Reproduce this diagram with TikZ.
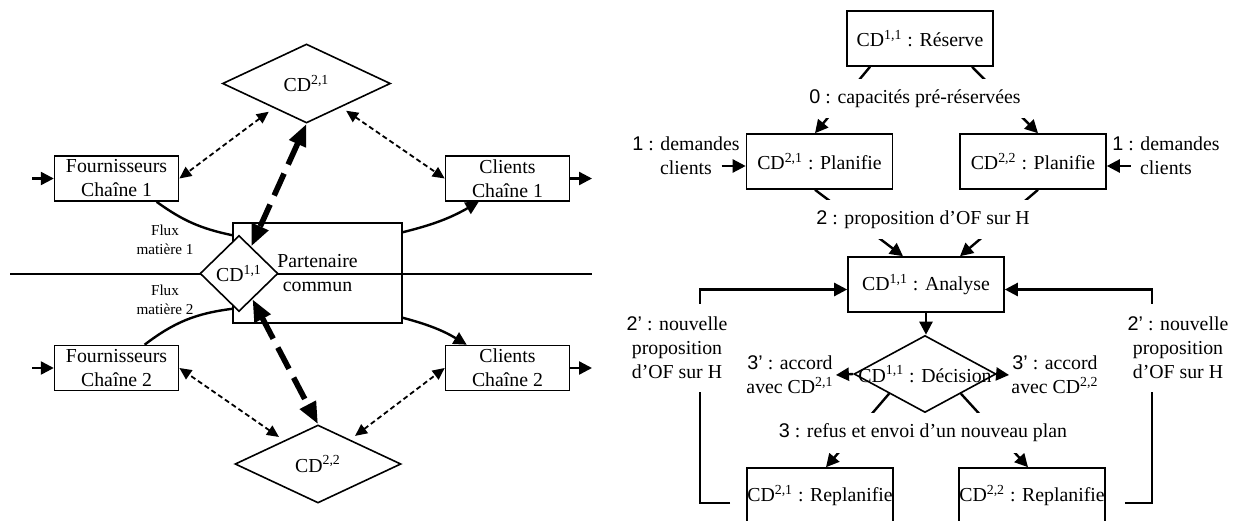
\documentclass[tikz,border=0pt]{standalone}
\usepackage{fontspec}
\setmainfont{Liberation Serif}
\setsansfont{Liberation Sans}
\usetikzlibrary{shapes.geometric, arrows.meta, positioning, calc}
\newcommand{\CDsup}[1]{CD\textsuperscript{#1}}
\tikzset{
    % Node styles
    chainbox/.style={
        rectangle,
        draw,
        line width=0.8pt,
        fill=white,
        minimum width=62pt,
        minimum height=22.5pt,
        inner sep=0pt,
        align=center
    },
    stepbox/.style={
        rectangle,
        draw,
        line width=0.8pt,
        fill=white,
        minimum width=73pt,
        minimum height=27.5pt,
        inner sep=0pt,
        align=center
    },
    decision/.style={
        diamond,
        draw,
        line width=0.8pt,
        fill=white,
        inner sep=0pt
    },
    msglabel/.style={
        fill=white,
        inner xsep=3pt,
        inner ysep=0pt,
        align=center
    },
    sidelabel/.style={
        inner sep=1pt,
        align=center
    },
    fluxlabel/.style={
        font=\fontsize{7.6}{9.5}\selectfont,
        align=center
    },
    % Arrow styles
    myarrow/.style={
        -{Triangle[length=6.5pt,width=6.5pt]},
        line width=1.2pt
    },
    flowline/.style={
        line width=1.2pt
    },
    infoarrow/.style={
        {Triangle[length=6pt,width=5.5pt]}-{Triangle[length=6pt,width=5.5pt]},
        line width=0.9pt,
        dash pattern=on 2.5pt off 1.6pt
    },
    syncarrow/.style={
        {Triangle[length=11pt,width=8.5pt]}-{Triangle[length=11pt,width=8.5pt]},
        line width=2.8pt,
        dash pattern=on 12pt off 5pt
    }
}
\begin{document}
\begin{tikzpicture}[x=0.5pt, y=-0.5pt, font=\fontsize{9.9}{12}\selectfont]
    \useasboundingbox (0,0) rectangle (1249,520);

    % Left: two chains sharing a partner
    \coordinate (lineW) at (10,274);
    \coordinate (lineE) at (592,274);
    \draw[line width=0.8pt] (lineW) -- (lineE);
    \node[rectangle, draw, line width=0.8pt, minimum width=84.5pt, minimum height=50pt, inner sep=0pt, align=center] (partner) at (317.5,273) {Partenaire\\commun};
    \node[decision, minimum width=39pt, minimum height=38pt] (cd11) at (239,273.5) {\CDsup{1,1}};
    \node[decision, minimum width=84pt, minimum height=39.5pt] (cd21) at (306.5,83.5) {\CDsup{2,1}};
    \node[decision, minimum width=83pt, minimum height=39pt] (cd22) at (318,464) {\CDsup{2,2}};

    \node[chainbox] (four1) at (116.6,178.5) {Fournisseurs\\Chaîne 1};
    \node[chainbox] (cli1) at (507.5,178.5) {Clients\\Chaîne 1};
    \node[chainbox] (four2) at (116.6,368) {Fournisseurs\\Chaîne 2};
    \node[chainbox] (cli2) at (507.5,368) {Clients\\Chaîne 2};

    \node[fluxlabel] (flux1) at (165,239.5) {Flux\\matière 1};
    \node[fluxlabel] (flux2) at (165,299.5) {Flux\\matière 2};

    % Inputs and outputs
    \coordinate (in1) at (32,178.5);
    \coordinate (out1) at (592,178.5);
    \coordinate (in2) at (32,368);
    \coordinate (out2) at (592,368);
    \draw[myarrow] (in1) -- (four1.west);
    \draw[myarrow] (cli1.east) -- (out1);
    \draw[myarrow] (in2) -- (four2.west);
    \draw[myarrow] (cli2.east) -- (out2);

    % Material flows
    \draw[flowline] ($(four1.south)+(40,0)$) to[bend right=12] ($(partner.north west)+(0,13)$);
    \draw[flowline] ($(four2.north)+(28,0)$) to[bend left=15] ($(partner.south west)+(0,-15)$);
    \draw[myarrow] ($(partner.north east)+(0,10)$) to[bend right=8] ($(cli1.south west)+(34,0)$);
    \draw[myarrow] ($(partner.south east)+(0,-6)$) to[bend left=8] ($(cli2.north west)+(22,0)$);

    % Information exchanges
    \draw[infoarrow, shorten <=3pt] (cd21) -- (four1.east);
    \draw[infoarrow, shorten <=3pt] (cd21) -- (cli1.west);
    \draw[infoarrow, shorten <=3pt] (cd22) -- (four2.east);
    \draw[infoarrow, shorten <=3pt] (cd22) -- (cli2.west);
    \draw[syncarrow] (cd21.south) -- (cd11);
    \draw[syncarrow] (cd11) -- (cd22.north);

    % Right: negotiation steps
    \node[stepbox] (reserve) at (920,38.5) {\CDsup{1,1} : Réserve};
    \node[stepbox] (plan1) at (819.5,161.5) {\CDsup{2,1} : Planifie};
    \node[stepbox] (plan2) at (1033,161.5) {\CDsup{2,2} : Planifie};
    \node[stepbox, minimum width=78pt] (analyse) at (926,284.5) {\CDsup{1,1} : Analyse};
    \node[decision, minimum width=71pt, minimum height=38.5pt] (dec) at (925,374) {};
    \node (dectext) at (dec.center) {\CDsup{1,1} : Décision};
    \node[stepbox] (replan1) at (820,495.5) {\CDsup{2,1} : Replanifie};
    \node[stepbox] (replan2) at (1032,495.5) {\CDsup{2,2} : Replanifie};

    \node[sidelabel] (dem1) at (686,155.5) {\textsf{1} : demandes\\clients};
    \node[sidelabel] (dem2) at (1166,155.5) {\textsf{1} : demandes\\clients};
    \node[sidelabel] (acc1) at (790,375) {\textsf{3'} : accord\\avec \CDsup{2,1}};
    \node[sidelabel] (acc2) at (1055,375) {\textsf{3'} : accord\\avec \CDsup{2,2}};

    \coordinate (dem1tail) at ($(plan1.west)+(-24,4.5)$);
    \coordinate (dem2tail) at ($(plan2.east)+(24,4.5)$);
    \draw[myarrow] (dem1tail) -- (dem1tail -| plan1.west);
    \draw[myarrow] (dem2tail) -- (dem2tail -| plan2.east);

    % Messages
    \draw[myarrow] ($(reserve.south)+(-50,0)$) -- ($(plan1.north)+(-4.5,0)$);
    \draw[myarrow] ($(reserve.south)+(52,0)$) -- ($(plan2.north)+(5,0)$);
    \draw[myarrow] ($(plan1.south)+(-4.5,0)$) -- ($(analyse.north)+(-23,0)$);
    \draw[myarrow] ($(plan2.south)+(5,0)$) -- ($(analyse.north)+(34,0)$);
    \draw[myarrow] (analyse.south) -- (analyse.south |- dec.north);
    \draw[myarrow] (dec.west) -- (acc1.east);
    \draw[myarrow] (dec.east) -- (acc2.west);
    \draw[myarrow] (dec.south west) -- ($(replan1.north)+(6,0)$);
    \draw[myarrow] (dec.south east) -- ($(replan2.north)+(-4,0)$);
    \draw[myarrow] ($(replan1.west)+(-16,7.5)$) -| ($(analyse.west)+(-147,5)$) -- ($(analyse.west)+(0,5)$);
    \draw[myarrow] ($(replan2.east)+(19,7.5)$) -| ($(analyse.east)+(147,5)$) -- ($(analyse.east)+(0,5)$);

    \node[msglabel, minimum height=19.5pt] (msg0) at (915,98.5) {\textsf{0} : capacités pré-réservées};
    \node[msglabel, minimum height=19.5pt] (msg2) at (923,219.5) {\textsf{2} : proposition d’OF sur H};
    \node[msglabel, minimum height=20pt] (msg3) at (923,433) {\textsf{3} : refus et envoi d’un nouveau plan};
    \node[msglabel, minimum height=44pt] (new1) at (677,348) {\textsf{2'} : nouvelle\\proposition\\d’OF sur H};
    \node[msglabel, minimum height=44pt] (new2) at (1178,348) {\textsf{2'} : nouvelle\\proposition\\d’OF sur H};
\end{tikzpicture}
\end{document}
